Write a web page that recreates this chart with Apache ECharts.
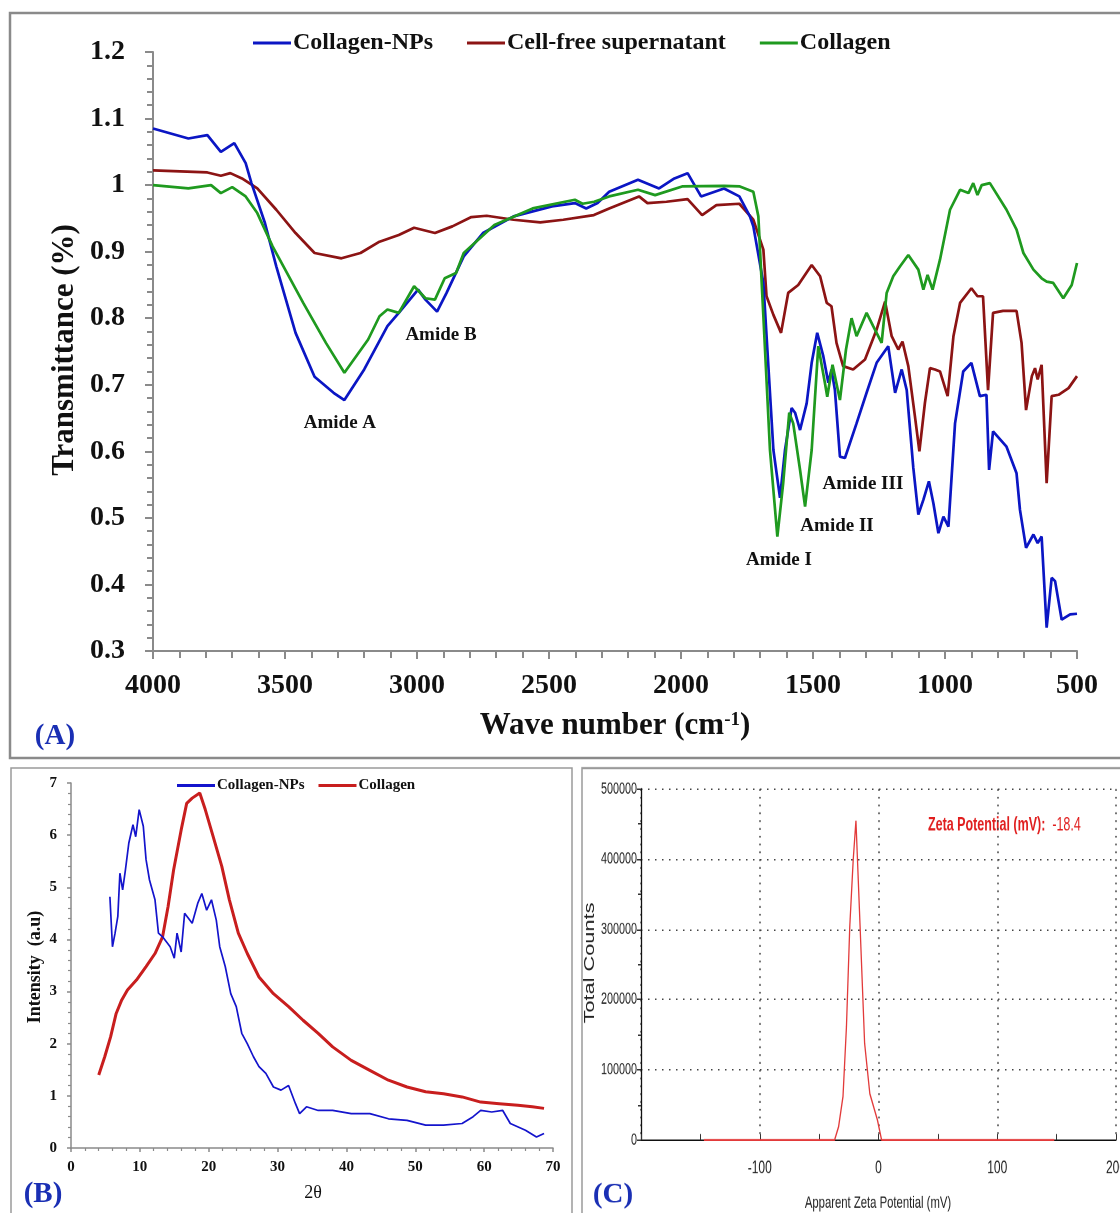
<!DOCTYPE html>
<html>
<head>
<meta charset="utf-8">
<script src="https://cdn.jsdelivr.net/npm/echarts@6/dist/echarts.min.js"></script>
<style>
html,body{margin:0;padding:0;background:#fff;}
body{width:1120px;height:1213px;position:relative;overflow:hidden;}
.p{position:absolute;}
#pc{transform:scaleY(1.5);transform-origin:0 0;}
</style>
</head>
<body>
<div id="pa" class="p" style="left:0;top:0;width:1120px;height:762px;"></div>
<div id="pb" class="p" style="left:0;top:760px;width:580px;height:453px;"></div>
<div id="pc" class="p" style="left:575px;top:760px;width:545px;height:302px;"></div>
<script>
// ---------- Panel A: FTIR ----------
const ftirNames = ['Collagen-NPs', 'Cell-free supernatant', 'Collagen'];
const npW = [4000,3866,3794,3743,3692,3649,3627,3576,3533,3460,
  3388,3316,3275,3200,3112,3069,2996,2968,2924,2888,
  2823,2750,2634,2489,2402,2359,2316,2272,2163,2083,
  2025,1975,1924,1837,1779,1739,1726,1688,1650,1625,
  1606,1581,1568,1549,1524,1505,1484,1461,1442,1430,
  1417,1398,1379,1335,1297,1259,1215,1189,1164,1145,
  1120,1101,1082,1061,1044,1025,1006,987,962,931,
  900,868,843,833,818,767,729,716,693,665,
  649,634,615,596,583,558,526,500];
const npT = [1.085,1.070,1.075,1.050,1.063,1.033,1.003,0.943,0.878,0.778,
  0.712,0.688,0.677,0.723,0.788,0.808,0.843,0.828,0.810,0.838,
  0.893,0.928,0.953,0.968,0.973,0.965,0.973,0.990,1.008,0.995,
  1.010,1.018,0.983,0.995,0.983,0.953,0.938,0.853,0.602,0.530,
  0.602,0.665,0.658,0.632,0.672,0.733,0.778,0.743,0.703,0.723,
  0.692,0.592,0.590,0.642,0.688,0.733,0.758,0.688,0.723,0.692,
  0.575,0.505,0.527,0.555,0.522,0.477,0.502,0.487,0.642,0.720,
  0.733,0.683,0.685,0.572,0.630,0.607,0.567,0.512,0.455,0.475,
  0.462,0.472,0.335,0.410,0.405,0.347,0.355,0.356];
const supW = [4000,3794,3743,3707,3663,3605,3533,3460,3388,3286,
  3214,3142,3069,3011,2932,2866,2794,2736,2634,2533,
  2446,2330,2272,2159,2127,2055,1975,1920,1866,1779,
  1726,1688,1676,1650,1621,1594,1556,1505,1473,1448,
  1430,1411,1386,1348,1303,1259,1227,1202,1177,1161,
  1139,1114,1097,1076,1057,1038,1019,990,968,943,
  900,877,856,837,818,780,729,710,693,671,
  659,649,634,615,596,570,532,500];
const supT = [1.022,1.019,1.014,1.018,1.010,0.995,0.963,0.928,0.898,0.890,
  0.898,0.915,0.925,0.936,0.928,0.938,0.952,0.954,0.948,0.944,
  0.948,0.955,0.965,0.983,0.973,0.975,0.979,0.955,0.970,0.972,
  0.948,0.903,0.833,0.805,0.778,0.838,0.850,0.880,0.863,0.823,
  0.818,0.763,0.728,0.723,0.738,0.783,0.825,0.773,0.753,0.765,
  0.728,0.653,0.600,0.673,0.725,0.723,0.720,0.683,0.773,0.823,
  0.845,0.833,0.833,0.692,0.808,0.811,0.811,0.763,0.662,0.713,
  0.725,0.708,0.730,0.552,0.683,0.685,0.695,0.713];
const colW = [4000,3866,3780,3743,3700,3649,3605,3547,3431,3345,
  3275,3185,3142,3112,3069,3011,2968,2932,2895,2852,
  2823,2707,2562,2402,2373,2329,2272,2163,2098,1996,
  1837,1777,1726,1707,1688,1663,1635,1613,1590,1575,
  1549,1530,1505,1480,1455,1446,1426,1398,1375,1354,
  1335,1297,1272,1240,1221,1196,1170,1139,1101,1082,
  1066,1047,1019,981,943,911,893,877,861,830,
  767,729,703,665,634,615,590,552,520,500];
const colT = [1.000,0.995,1.000,0.988,0.997,0.983,0.958,0.908,0.823,0.763,
  0.718,0.768,0.803,0.813,0.808,0.848,0.830,0.828,0.860,0.868,
  0.898,0.940,0.965,0.978,0.972,0.975,0.983,0.993,0.985,0.998,
  0.999,0.998,0.990,0.953,0.803,0.602,0.472,0.552,0.658,0.642,
  0.572,0.517,0.602,0.758,0.703,0.682,0.730,0.677,0.753,0.800,
  0.773,0.808,0.788,0.763,0.838,0.863,0.878,0.895,0.873,0.843,
  0.865,0.843,0.888,0.963,0.993,0.988,1.003,0.985,1.000,1.003,
  0.963,0.933,0.898,0.873,0.860,0.855,0.853,0.830,0.850,0.883];
const amideLabels = ['Amide A','Amide B','Amide I','Amide II','Amide III'];
const amideW = [3292, 2909, 1629, 1409, 1311];
const amideT = [0.643, 0.775, 0.436, 0.488, 0.551];

// ---------- Panel B: XRD ----------
const xrdNames = ['Collagen-NPs', 'Collagen'];
const xrdNpX = [5.65,6.02,6.4,6.8,7.1,7.5,7.9,8.4,9.0,9.4,
  9.9,10.5,10.9,11.4,12.2,12.7,13.3,14.4,15.0,15.4,
  16.0,16.5,17.6,18.4,19.0,19.7,20.4,21.1,21.6,22.4,
  23.2,24.0,24.8,25.6,26.5,27.3,28.3,29.4,30.5,31.6,
  32.6,33.2,34.2,35.9,38.0,40.7,43.4,46.1,48.8,51.5,
  54.1,56.8,58.4,59.5,61.1,62.7,63.8,66.0,67.6,68.7];
const xrdNpY = [4.82,3.86,4.12,4.44,5.27,4.95,5.33,5.85,6.20,5.97,
  6.49,6.17,5.53,5.14,4.76,4.12,4.05,3.86,3.64,4.12,
  3.76,4.50,4.31,4.69,4.88,4.56,4.76,4.37,3.86,3.48,
  2.96,2.71,2.20,2.00,1.75,1.56,1.43,1.17,1.11,1.20,
  0.85,0.66,0.79,0.72,0.72,0.66,0.66,0.56,0.53,0.44,
  0.44,0.47,0.60,0.72,0.69,0.72,0.47,0.34,0.21,0.28];
const xrdColX = [4.03,4.9,5.75,6.56,7.37,8.2,9.5,10.9,12.2,13.3,
  14.1,14.9,16.0,16.8,17.6,18.7,19.5,20.5,21.9,23.0,
  24.3,25.6,27.3,29.4,31.6,33.7,35.9,38.0,40.7,43.4,
  46.1,48.8,51.5,54.1,56.8,59.5,62.2,64.9,67.0,68.7];
const xrdColY = [1.40,1.75,2.13,2.58,2.84,3.03,3.22,3.48,3.73,4.05,
  4.63,5.33,6.10,6.61,6.71,6.81,6.49,6.04,5.40,4.76,
  4.12,3.73,3.28,2.96,2.71,2.45,2.20,1.94,1.68,1.49,
  1.30,1.17,1.08,1.04,0.98,0.88,0.85,0.82,0.79,0.76];

// ---------- Panel C: Zeta potential ----------
const zetaX = [-147,-37,-33.6,-29.9,-27,-24.2,-21.3,-19,-15.5,-11.7,-7.3,-0.9,2.6,148];
const zetaY = [0,0,19000,62000,161000,304000,399000,455000,304000,138000,66000,28500,0,0];
const zetaValue = '-18.4';

function zip(a, b) { const n = Math.min(a.length, b.length); const r = []; for (let i = 0; i < n; i++) r.push([a[i], b[i]]); return r; }

const SERIF = "'Liberation Serif','Times New Roman','DejaVu Serif',serif";
const SANS = "'Liberation Sans',Arial,sans-serif";
const AX = '#8a8a8a';

// ===== Chart A =====
const ca = echarts.init(document.getElementById('pa'), null, {renderer: 'canvas'});
const colorsA = ['#0b16c4', '#8c1414', '#1f9a1f'];
ca.setOption({
  animation: false,
  grid: {left: 153, top: 52, width: 924, height: 599, outerBoundsMode: 'none'},
  legend: {
    left: 248, top: 26, itemWidth: 38, itemHeight: 3, icon: 'rect', itemGap: 34,
    data: ftirNames,
    textStyle: {fontFamily: SERIF, fontWeight: 'bold', fontSize: 24, color: '#111', padding: [0, 0, 0, -3]}
  },
  xAxis: {
    type: 'value', min: 500, max: 4000, interval: 500, inverse: true,
    axisLine: {show: true, lineStyle: {color: AX, width: 2}},
    axisTick: {show: true, length: 8, lineStyle: {color: AX, width: 2}},
    minorTick: {show: true, splitNumber: 5, length: 7, lineStyle: {color: AX, width: 2}},
    splitLine: {show: false},
    axisLabel: {fontFamily: SERIF, fontWeight: 'bold', fontSize: 28, color: '#111', margin: 21,
      formatter: v => String(v)}
  },
  yAxis: {
    type: 'value', min: 0.3, max: 1.2, interval: 0.1,
    axisLine: {show: true, lineStyle: {color: AX, width: 2}},
    axisTick: {show: true, length: 8, lineStyle: {color: AX, width: 2}},
    minorTick: {show: true, splitNumber: 5, length: 6, lineStyle: {color: AX, width: 2}},
    splitLine: {show: false},
    axisLabel: {fontFamily: SERIF, fontWeight: 'bold', fontSize: 28, color: '#111', margin: 28,
      formatter: v => String(Math.round(v * 10) / 10)}
  },
  series: [
    {name: ftirNames[0], type: 'line', data: zip(npW, npT), showSymbol: false, color: colorsA[0], lineStyle: {width: 2.7}, z: 3},
    {name: ftirNames[1], type: 'line', data: zip(supW, supT), showSymbol: false, color: colorsA[1], lineStyle: {width: 2.7}, z: 2},
    {name: ftirNames[2], type: 'line', data: zip(colW, colT), showSymbol: false, color: colorsA[2], lineStyle: {width: 2.7}, z: 4},
    {name: 'labels', type: 'scatter', silent: true, symbolSize: 0, itemStyle: {color: '#111'}, z: 5,
      data: amideLabels.map((t, i) => ({name: t, value: [amideW[i], amideT[i]]})),
      label: {show: true, position: 'inside', formatter: p => p.name, fontFamily: SERIF, fontWeight: 'bold', fontSize: 19, color: '#111', opacity: 1, textBorderWidth: 0}}
  ],
  graphic: [
    {type: 'rect', shape: {x: 10, y: 13, width: 1125, height: 745}, style: {fill: 'none', stroke: '#8a8a8a', lineWidth: 2.5}, silent: true},
    {type: 'text', x: 65, y: 350, rotation: Math.PI / 2, style: {text: 'Transmittance (%)', align: 'center', verticalAlign: 'middle', fontFamily: SERIF, fontWeight: 'bold', fontSize: 31, fill: '#111'}},
    {type: 'text', x: 615, y: 726, style: {text: 'Wave number (cm{s|-1})', align: 'center', verticalAlign: 'middle', fontFamily: SERIF, fontWeight: 'bold', fontSize: 31, fill: '#111',
      rich: {s: {fontFamily: SERIF, fontWeight: 'bold', fontSize: 19, verticalAlign: 'top', lineHeight: 19, fill: '#111'}}}},
    {type: 'text', x: 55, y: 737, style: {text: '(A)', align: 'center', verticalAlign: 'middle', fontFamily: SERIF, fontWeight: 'bold', fontSize: 29, fill: '#1a2fb4'}}
  ]
});

// ===== Chart B =====
const cb = echarts.init(document.getElementById('pb'), null, {renderer: 'canvas'});
cb.setOption({
  animation: false,
  grid: {left: 71, top: 23, width: 482, height: 365, outerBoundsMode: 'none'},
  legend: {
    left: 172, top: 13, itemWidth: 38, itemHeight: 3, icon: 'rect', itemGap: 14,
    data: xrdNames,
    textStyle: {fontFamily: SERIF, fontWeight: 'bold', fontSize: 15, color: '#111', padding: [0, 0, 0, -3]}
  },
  xAxis: {
    type: 'value', min: 0, max: 70, interval: 10,
    axisLine: {show: true, lineStyle: {color: AX, width: 1.5}},
    axisTick: {show: true, length: 4, lineStyle: {color: AX, width: 1.5}},
    minorTick: {show: true, splitNumber: 5, length: 3, lineStyle: {color: AX, width: 1.2}},
    splitLine: {show: false},
    axisLabel: {fontFamily: SERIF, fontWeight: 'bold', fontSize: 15, color: '#111', margin: 12}
  },
  yAxis: {
    type: 'value', min: 0, max: 7, interval: 1,
    axisLine: {show: true, lineStyle: {color: AX, width: 1.5}},
    axisTick: {show: true, length: 4, lineStyle: {color: AX, width: 1.5}},
    minorTick: {show: true, splitNumber: 5, length: 3, lineStyle: {color: AX, width: 1.2}},
    splitLine: {show: false},
    axisLabel: {fontFamily: SERIF, fontWeight: 'bold', fontSize: 15, color: '#111', margin: 14}
  },
  series: [
    {name: xrdNames[0], type: 'line', data: zip(xrdNpX, xrdNpY), showSymbol: false, color: '#1414cc', lineStyle: {width: 1.7}, z: 3},
    {name: xrdNames[1], type: 'line', data: zip(xrdColX, xrdColY), showSymbol: false, color: '#c81e1e', lineStyle: {width: 3}, z: 2}
  ],
  graphic: [
    {type: 'rect', shape: {x: 11, y: 8, width: 561, height: 470}, style: {fill: 'none', stroke: '#9a9a9a', lineWidth: 1.5}, silent: true},
    {type: 'text', x: 35, y: 207, rotation: Math.PI / 2, style: {text: 'Intensity  (a.u)', align: 'center', verticalAlign: 'middle', fontFamily: SERIF, fontWeight: 'bold', fontSize: 18, fill: '#111'}},
    {type: 'text', x: 313, y: 433, style: {text: '2θ', align: 'center', verticalAlign: 'middle', fontFamily: SERIF, fontSize: 18, fill: '#111'}},
    {type: 'text', x: 43, y: 435, style: {text: '(B)', align: 'center', verticalAlign: 'middle', fontFamily: SERIF, fontWeight: 'bold', fontSize: 29, fill: '#1a2fb4'}}
  ]
});

// ===== Chart C (drawn in a box stretched 1.5x vertically by CSS, like the instrument export) =====
const SY = 1.5;
const cc = echarts.init(document.getElementById('pc'), null, {renderer: 'canvas', devicePixelRatio: 2});
cc.setOption({
  animation: false,
  grid: {left: 66, top: 29 / SY, width: 475, height: 351 / SY, outerBoundsMode: 'none'},
  xAxis: {
    type: 'value', min: -200, max: 200, interval: 100,
    axisLine: {show: true, onZero: true, lineStyle: {color: '#111', width: 1}},
    axisTick: {show: true, inside: true, length: 4, lineStyle: {color: '#333', width: 1}},
    minorTick: {show: true, splitNumber: 2, length: 4, lineStyle: {color: '#333', width: 1}},
    splitLine: {show: true, lineStyle: {color: '#444', width: 1.5, type: [1.2, 4]}},
    axisLabel: {fontFamily: SANS, fontSize: 12, color: '#222', margin: 13,
      formatter: v => (v === -200 ? '' : String(v))}
  },
  yAxis: {
    type: 'value', min: 0, max: 500000, interval: 100000,
    axisLine: {show: true, onZero: false, lineStyle: {color: '#111', width: 1.3}},
    axisTick: {show: true, length: 4, lineStyle: {color: '#333', width: 1}},
    minorTick: {show: true, splitNumber: 2, length: 3, lineStyle: {color: '#333', width: 1}},
    splitLine: {show: true, lineStyle: {color: '#444', width: 1, type: [1.5, 5.5]}},
    axisLabel: {fontFamily: SANS, fontSize: 10.8, color: '#222', margin: 4,
      formatter: v => String(v)}
  },
  series: [
    {name: 'Total Counts', type: 'line', data: zip(zetaX, zetaY), showSymbol: false, color: '#e23a3a', lineStyle: {width: 1.3}, z: 3}
  ],
  graphic: [
    {type: 'rect', shape: {x: 7, y: 8 / SY, width: 600, height: 470 / SY}, style: {fill: 'none', stroke: '#9a9a9a', lineWidth: 1.5}, silent: true},
    {type: 'text', x: 15, y: 203 / SY, rotation: Math.PI / 2, style: {text: 'Total Counts', align: 'center', verticalAlign: 'middle', fontFamily: SANS, fontSize: 14.5, fill: '#222'}},
    {type: 'text', x: 303, y: 443 / SY, style: {text: 'Apparent Zeta Potential (mV)', align: 'center', verticalAlign: 'middle', fontFamily: SANS, fontSize: 11.3, fill: '#222'}},
    {type: 'text', x: 353, y: 65 / SY, style: {text: '{b|Zeta Potential (mV):}  {n|' + zetaValue + '}', align: 'left', verticalAlign: 'middle', fontFamily: SANS, fontSize: 12.5, fill: '#e01e1e',
      rich: {b: {fontFamily: SANS, fontWeight: 'bold', fontSize: 12.5, fill: '#e01e1e'}, n: {fontFamily: SANS, fontSize: 12.5, fill: '#e01e1e'}}}},
    {type: 'text', x: 38, y: 435 / SY, scaleY: 1 / SY, style: {text: '(C)', align: 'center', verticalAlign: 'middle', fontFamily: SERIF, fontWeight: 'bold', fontSize: 29, fill: '#1a2fb4'}}
  ]
});
</script>
</body>
</html>
